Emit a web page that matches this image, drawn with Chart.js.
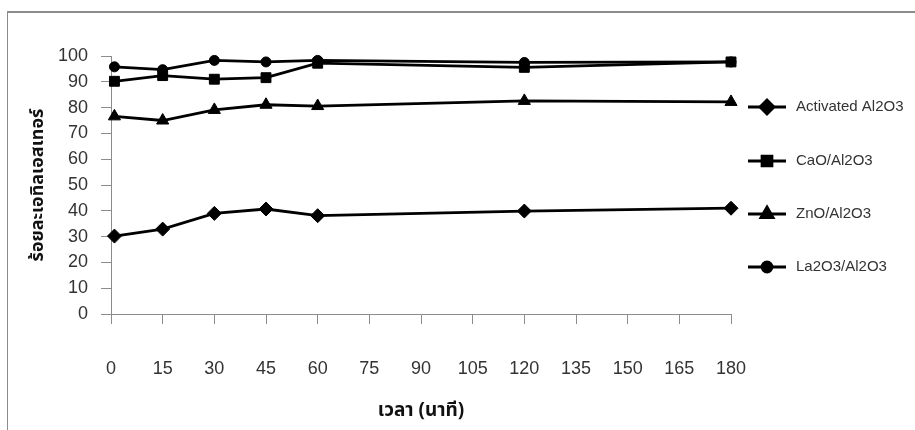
<!DOCTYPE html>
<html>
<head>
<meta charset="utf-8">
<script src="https://cdn.jsdelivr.net/npm/chart.js@4"></script>
<style>
	html, body { margin: 0; padding: 0; background: #fff; }
	#wrap { width: 915px; height: 430px; position: relative; }
	#frame { position: absolute; left: 7px; top: 11px; right: -2px; bottom: -2px; border-left: 1px solid #8c8c8c; border-top: 2px solid #8c8c8c; }
</style>
</head>
<body>
<div id="wrap">
	<div id="frame"></div>
	<canvas id="myChart" width="915" height="430"></canvas>
</div>
<script>
const minutes = [1, 15, 30, 45, 60, 120, 180];
const activated = [30.2, 32.9, 39.0, 40.7, 38.1, 39.9, 41.0];
const caO = [90.2, 92.4, 91.0, 91.6, 97.2, 95.6, 97.7];
const znO = [76.6, 75.0, 79.1, 81.1, 80.6, 82.6, 82.2];
const la2O3 = [95.8, 94.7, 98.3, 97.7, 98.3, 97.5, 97.7];
const seriesNames = ['Activated Al2O3', 'CaO/Al2O3', 'ZnO/Al2O3', 'La2O3/Al2O3'];
const xTitle = 'เวลา (นาที)';
const yTitle = 'ร้อยละเอทิลเอสเทอร์';

const tickFont = '"Liberation Sans", Arial, sans-serif';
const thaiFont = '"Noto Sans Thai", "Noto Sans", "DejaVu Sans", sans-serif';

function series(label, values, style, radius) {
	return {
		label: label,
		data: values.map((v, i) => ({x: minutes[i], y: v})),
		borderColor: '#000',
		backgroundColor: '#000',
		borderWidth: 2.8,
		pointStyle: style,
		pointRadius: radius,
		pointHoverRadius: radius,
		pointBorderWidth: 1,
		tension: 0,
		clip: false
	};
}

// legend drawn as line + marker + text, like the spreadsheet original
const sideLegend = {
	id: 'sideLegend',
	afterDraw(chart) {
		const ctx = chart.ctx;
		const rows = [107, 161, 214, 267];
		chart.data.datasets.forEach((ds, i) => {
			const y = rows[i];
			ctx.save();
			ctx.strokeStyle = '#000';
			ctx.lineWidth = 2.8;
			ctx.beginPath();
			ctx.moveTo(748, y);
			ctx.lineTo(786, y);
			ctx.stroke();
			ctx.fillStyle = '#000';
			Chart.helpers.drawPoint(ctx, {
				pointStyle: ds.pointStyle, radius: ds.pointRadius, borderWidth: 1, rotation: 0
			}, 767, y);
			ctx.fillStyle = '#333';
			ctx.font = '15px ' + tickFont;
			ctx.textBaseline = 'middle';
			ctx.fillText(ds.label, 796, y);
			ctx.restore();
		});
	}
};

Chart.defaults.font.family = tickFont;

new Chart(document.getElementById('myChart'), {
	type: 'line',
	data: {
		datasets: [
			series(seriesNames[0], activated, 'rectRot', 7),
			series(seriesNames[1], caO, 'rect', 7),
			series(seriesNames[2], znO, 'triangle', 7),
			series(seriesNames[3], la2O3, 'circle', 5)
		]
	},
	options: {
		responsive: false,
		animation: false,
		layout: { padding: { left: 0, top: 56, right: 915 - 731, bottom: 0 } },
		plugins: { legend: { display: false }, tooltip: { enabled: false } },
		scales: {
			x: {
				type: 'linear',
				min: 0,
				max: 180,
				afterFit: (s) => { s.height = 430 - 314; },
				ticks: { stepSize: 15, padding: 34, color: '#333', font: { size: 18 } },
				grid: { drawOnChartArea: false, tickLength: 10, color: '#8c8c8c' },
				border: { color: '#8c8c8c', width: 1 },
				title: { display: true, text: xTitle, color: '#111', padding: { top: 0, bottom: 6 },
					font: { family: thaiFont, size: 19, weight: 'bold' } }
			},
			y: {
				min: 0,
				max: 100,
				afterFit: (s) => { s.width = 111; },
				ticks: { stepSize: 10, padding: 13, color: '#333', font: { size: 18 } },
				grid: { drawOnChartArea: false, tickLength: 10, color: '#8c8c8c' },
				border: { color: '#8c8c8c', width: 1 },
				title: { display: true, text: yTitle, color: '#111', padding: { top: 29 },
					font: { family: thaiFont, size: 18, weight: 'bold' } }
			}
		}
	},
	plugins: [sideLegend]
});
</script>
</body>
</html>
